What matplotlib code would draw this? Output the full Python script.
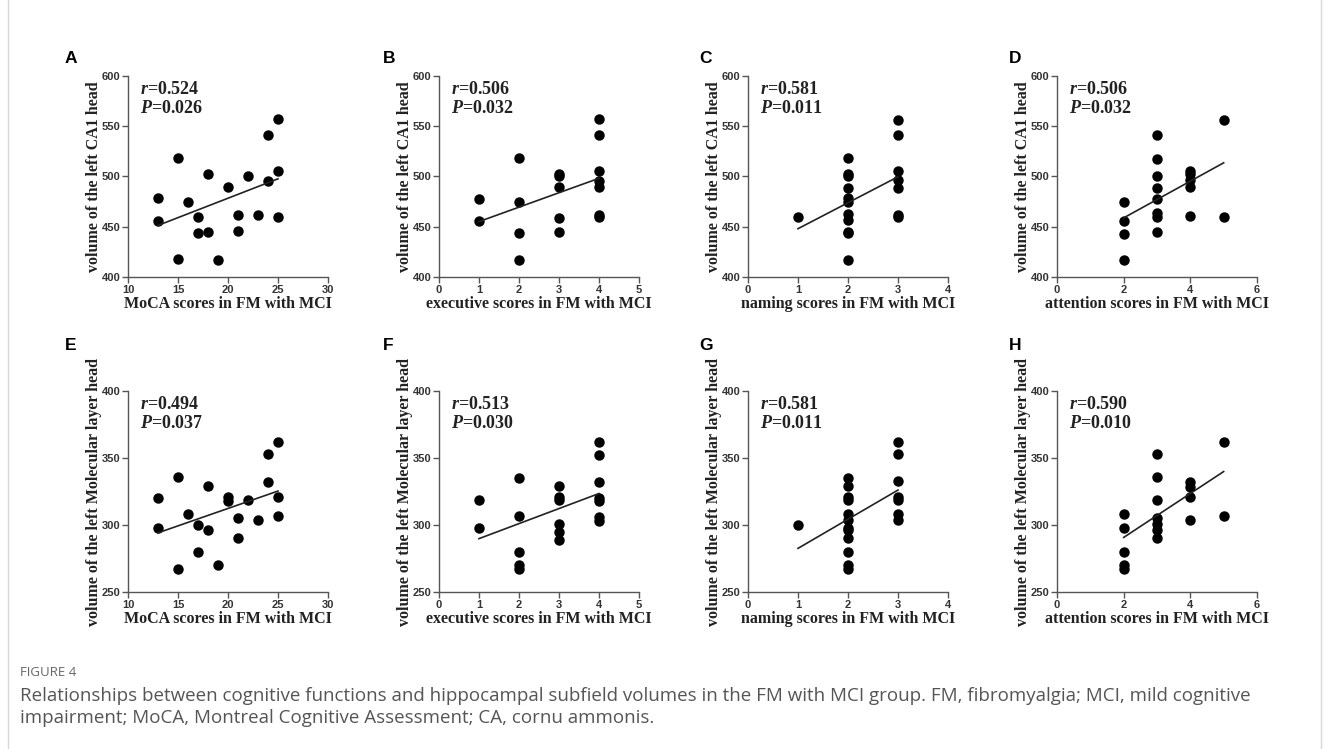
import numpy as np
import matplotlib.pyplot as plt
from matplotlib.patches import Rectangle

plt.rcParams['mathtext.fontset'] = 'custom'
plt.rcParams['mathtext.it'] = 'Liberation Serif:italic:bold'
plt.rcParams['mathtext.rm'] = 'Liberation Serif:bold'

# ---- data ----
# A: MoCA vs CA1 head
moca_x_a = [13, 13, 15, 15, 16, 17, 17, 18, 18, 19, 20, 21, 21, 22, 23, 24, 24, 25, 25, 25]
ca1_moca = [479, 456, 518, 418, 475, 460, 444, 445, 502, 417, 490, 462, 446, 500, 462, 541, 496, 557, 505, 460]
# B: executive vs CA1 head
exec_x_b = [1, 1, 2, 2, 2, 2, 3, 3, 3, 3, 3, 4, 4, 4, 4, 4, 4, 4]
ca1_exec = [478, 456, 518, 475, 444, 417, 502, 500, 490, 459, 445, 557, 541, 505, 496, 490, 462, 460]
# C: naming vs CA1 head
naming_x_c = [1, 2, 2, 2, 2, 2, 2, 2, 2, 2, 2, 2, 3, 3, 3, 3, 3, 3, 3]
ca1_naming = [460, 518, 502, 500, 489, 479, 475, 463, 457, 445, 444, 417, 556, 541, 505, 497, 489, 462, 460]
# D: attention vs CA1 head
attn_x_d = [2, 2, 2, 2, 3, 3, 3, 3, 3, 3, 3, 3, 4, 4, 4, 4, 4, 5, 5]
ca1_attn = [475, 456, 443, 417, 541, 517, 500, 489, 478, 464, 460, 445, 505, 502, 497, 490, 461, 556, 460]
# E: MoCA vs molecular layer head
moca_x_e = [13, 13, 15, 15, 16, 17, 17, 18, 18, 19, 20, 20, 21, 21, 22, 23, 24, 24, 25, 25, 25]
mol_moca = [320, 298, 336, 267, 308, 300, 280, 329, 296, 270, 321, 318, 305, 290, 319, 304, 353, 332, 362, 321, 307]
# F: executive vs molecular layer head
exec_x_f = [1, 1, 2, 2, 2, 2, 2, 3, 3, 3, 3, 3, 3, 4, 4, 4, 4, 4, 4, 4]
mol_exec = [319, 298, 335, 307, 280, 270, 267, 329, 321, 319, 301, 295, 289, 362, 352, 332, 320, 318, 306, 303]
# G: naming vs molecular layer head
naming_x_g = [1, 2, 2, 2, 2, 2, 2, 2, 2, 2, 2, 2, 2, 3, 3, 3, 3, 3, 3, 3]
mol_naming = [300, 335, 329, 321, 319, 308, 304, 298, 296, 290, 280, 270, 267, 362, 353, 333, 321, 319, 308, 304]
# H: attention vs molecular layer head
attn_x_h = [2, 2, 2, 2, 2, 3, 3, 3, 3, 3, 3, 3, 4, 4, 4, 4, 5, 5]
mol_attn = [308, 298, 280, 270, 267, 353, 336, 319, 305, 301, 296, 290, 332, 328, 321, 304, 362, 307]

letters = ['A', 'B', 'C', 'D', 'E', 'F', 'G', 'H']
r_vals = ['0.524', '0.506', '0.581', '0.506', '0.494', '0.513', '0.581', '0.590']
p_vals = ['0.026', '0.032', '0.011', '0.032', '0.037', '0.030', '0.011', '0.010']
xlabels = ['MoCA scores in FM with MCI', 'executive scores in FM with MCI',
           'naming scores in FM with MCI', 'attention scores in FM with MCI'] * 2
ylabels = ['volume of the left CA1 head'] * 4 + ['volume of the left Molecular layer head'] * 4
xs = [moca_x_a, exec_x_b, naming_x_c, attn_x_d, moca_x_e, exec_x_f, naming_x_g, attn_x_h]
ys = [ca1_moca, ca1_exec, ca1_naming, ca1_attn, mol_moca, mol_exec, mol_naming, mol_attn]
xticks = [[10, 15, 20, 25, 30], [0, 1, 2, 3, 4, 5], [0, 1, 2, 3, 4], [0, 2, 4, 6]] * 2
yticks = [[400, 450, 500, 550, 600]] * 4 + [[250, 300, 350, 400]] * 4

W, H = 1329, 749
fig = plt.figure(figsize=(W / 100, H / 100), dpi=100)

# light frame around the figure block
fig.patches.append(Rectangle((8 / W, -0.05), (W - 16) / W, 1.1, transform=fig.transFigure,
                             fill=False, edgecolor='#d8d8d8', linewidth=1))

lefts = [128, 439, 748, 1057]
tops = [76, 391]
letter_x = [65, 383, 699, 1009]
letter_bottom = [63, 350]
aw, ah = 200, 201
col = '#555555'

for i in range(8):
    row, c = divmod(i, 4)
    l, t = lefts[c], tops[row]
    ax = fig.add_axes([l / W, 1 - (t + ah) / H, aw / W, ah / H])
    x = np.array(xs[i], dtype=float)
    y = np.array(ys[i], dtype=float)
    ax.plot(x, y, 'o', color='black', markersize=6.5)
    k, b = np.polyfit(x, y, 1)
    xl = np.array([x.min(), x.max()])
    ax.plot(xl, k * xl + b, color='#222222', linewidth=1.2)

    ax.set_xlim(xticks[i][0], xticks[i][-1])
    ax.set_ylim(yticks[i][0], yticks[i][-1])
    ax.set_xticks(xticks[i])
    ax.set_yticks(yticks[i])
    for s in ['top', 'right']:
        ax.spines[s].set_visible(False)
    for s in ['left', 'bottom']:
        ax.spines[s].set_color(col)
        ax.spines[s].set_linewidth(1)
    ax.tick_params(colors=col, length=4, width=1, pad=1.5, labelsize=8)
    for lab in ax.get_xticklabels() + ax.get_yticklabels():
        lab.set_fontweight('bold')
        lab.set_fontfamily('Liberation Sans')
        lab.set_color('#333333')

    ax.set_xlabel(xlabels[i], fontfamily='Liberation Serif', fontweight='bold',
                  fontsize=11.5, color='#222222', labelpad=1)
    ax.set_ylabel(ylabels[i], fontfamily='Liberation Serif', fontweight='bold',
                  fontsize=11.5, color='#222222', labelpad=0)

    ax.text(0.06, 0.975, '$r$=' + r_vals[i] + '\n$P$=' + p_vals[i], transform=ax.transAxes,
            ha='left', va='top', fontfamily='Liberation Serif', fontweight='bold',
            fontsize=13, color='#222222', linespacing=1.15)

    fig.text(letter_x[c] / W, 1 - letter_bottom[row] / H, letters[i], fontfamily='Liberation Sans',
             fontweight='bold', fontsize=12.5, ha='left', va='baseline', color='black')

fig.text(20 / W, 1 - 673 / H, 'FIGURE 4', fontfamily='Open Sans', fontsize=9.5,
         color='#666666', va='center', ha='left')
fig.text(20 / W, 1 - 707 / H,
         'Relationships between cognitive functions and hippocampal subfield volumes in the FM with MCI group. '
         'FM, fibromyalgia; MCI, mild cognitive\nimpairment; MoCA, Montreal Cognitive Assessment; CA, cornu ammonis.',
         fontfamily='Open Sans', fontsize=13.5, color='#555555', va='center', ha='left', linespacing=1.27)

fig.savefig('out.png', dpi=100, facecolor='white')
